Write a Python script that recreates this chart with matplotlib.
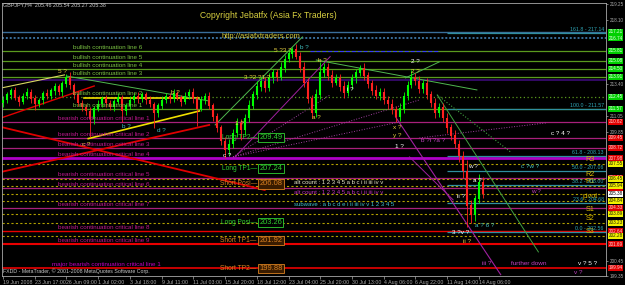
import matplotlib
matplotlib.use("Agg")
import matplotlib.pyplot as plt
import matplotlib.transforms as mtransforms

plt.rcParams['font.family'] = ['Liberation Sans', 'DejaVu Sans']

# GBPJPY H4 - one candle drawn for every second bar
first_open = 212.0
closes = [
    212.2, 212.6, 212.9, 212.4, 212.1, 212.5, 212.8, 212.3, 211.9, 212.2,
    212.7, 212.5, 212.9, 213.2, 212.8, 213.4, 213.9, 213.3,
    212.6, 212.0, 211.7, 211.4, 210.8,
    211.6, 211.9, 212.3, 212.0, 211.7, 212.1, 212.4, 211.4, 211.8, 212.2,
    212.5, 212.3, 212.6, 212.2, 211.9, 211.3, 211.8, 212.2, 212.5, 212.3,
    212.7, 212.4, 212.1, 212.5, 212.8,
    212.3, 211.6,
    212.2, 212.5, 211.8, 211.0, 210.2, 209.2, 208.6, 209.0,
    209.8, 210.5, 210.0, 210.9, 211.8, 212.6, 213.2, 213.6, 213.1, 213.8,
    214.2, 213.9, 214.6, 215.2, 215.6, 215.9, 215.4,
    214.6, 213.5, 212.3, 211.3, 212.6,
    214.2, 214.6, 214.0, 213.5, 213.8, 213.2, 212.7, 213.3, 213.8, 214.2,
    214.5, 214.0, 213.4, 212.9, 212.5, 212.8, 212.2, 211.9, 211.5, 211.0,
    211.6, 212.5, 213.3, 213.9, 213.6, 213.0, 213.4,
    212.6, 212.0, 211.3, 211.7, 210.9, 210.2, 209.6, 209.0, 208.1, 207.0,
    204.5, 203.8, 205.0, 206.2, 205.38,
]
up_wick = [
    0.3, 0.2, 0.2, 0.3, 0.2, 0.2, 0.3, 0.2, 0.3, 0.2, 0.2, 0.3, 0.2, 0.3, 0.2, 0.2, 0.2, 0.4,
    0.2, 0.3, 0.2, 0.2, 0.3,
    0.2, 0.3, 0.2, 0.3, 0.2, 0.2, 0.3, 0.2, 0.2, 0.3, 0.2, 0.3, 0.2, 0.2, 0.3, 0.2, 0.2, 0.3,
    0.2, 0.2, 0.3, 0.2, 0.2, 0.3, 0.2,
    0.3, 0.2,
    0.3, 0.2, 0.3, 0.2, 0.3, 0.2, 0.3, 0.4,
    0.3, 0.4, 0.3, 0.3, 0.4, 0.3, 0.4, 0.3, 0.3, 0.4, 0.3, 0.3, 0.4, 0.3, 0.3, 0.2, 0.4,
    0.3, 0.4, 0.3, 0.3, 0.4,
    0.8, 0.3, 0.3, 0.4, 0.3, 0.3, 0.4, 0.3, 0.3, 0.3, 0.3, 0.4, 0.3, 0.3, 0.4, 0.3, 0.3, 0.3, 0.4, 0.3,
    0.4, 0.3, 0.3, 0.5, 0.3, 0.4, 0.3,
    0.4, 0.3, 0.4, 0.3, 0.3, 0.4, 0.3, 0.4, 0.3, 0.4,
    0.8, 0.4, 0.3, 0.6, 0.4,
]
dn_wick = [
    0.3, 0.2, 0.3, 0.2, 0.3, 0.2, 0.2, 0.3, 0.4, 0.2, 0.3, 0.2, 0.2, 0.3, 0.2, 0.3, 0.2, 0.3,
    0.3, 0.2, 0.3, 0.3, 1.3,
    0.3, 0.2, 0.2, 0.3, 0.2, 0.3, 0.2, 0.8, 0.3, 0.2, 0.2, 0.3, 0.2, 0.3, 0.2, 1.1, 0.3, 0.2,
    0.2, 0.3, 0.2, 0.2, 0.3, 0.2, 0.2,
    0.3, 1.3,
    0.2, 0.3, 0.2, 0.3, 0.3, 0.3, 0.6, 0.4,
    0.3, 0.3, 0.7, 0.3, 0.3, 0.2, 0.3, 0.3, 0.3, 0.2, 0.3, 0.3, 0.2, 0.3, 0.2, 0.3, 0.2,
    0.3, 0.3, 0.3, 0.4, 0.3,
    0.3, 0.3, 0.3, 0.3, 0.2, 0.3, 0.3, 0.2, 0.3, 0.3, 0.2, 0.3, 0.3, 0.3, 0.2, 0.3, 0.3, 0.3, 0.3, 0.4,
    0.3, 0.3, 0.3, 0.2, 0.3, 0.3, 0.3,
    0.3, 0.3, 0.4, 0.3, 0.3, 0.4, 0.3, 0.3, 0.4, 0.5,
    1.6, 0.6, 0.4, 0.3, 0.3,
]

time_labels = ["19 Jun 2008", "23 Jun 17:00", "26 Jun 09:00", "1 Jul 02:00", "3 Jul 18:00",
               "9 Jul 11:00", "11 Jul 03:00", "15 Jul 20:00", "18 Jul 12:00", "23 Jul 04:00",
               "25 Jul 20:00", "30 Jul 13:00", "4 Aug 06:00", "6 Aug 22:00", "11 Aug 14:00",
               "14 Aug 06:00"]
bars_per_label = 16
price_ticks = [219.25, 218.10, 213.40, 211.05, 209.85, 200.45, 199.35]

# horizontal levels
top_levels = [217.21, 216.74]
bull_levels = [215.81, 215.08, 214.50, 213.91, 212.45, 211.57]
bull_names = ["bullish continuation line 6", "bullish continuation line 5",
              "bullish continuation line 4", "bullish continuation line 3",
              "bullish continuation line 2", "bullish continuation line 1"]
purple_level = 213.69
bear_levels = [210.62, 209.45, 208.72, 207.98, 206.52, 205.79, 204.33, 202.64, 201.69]
bear_names = ["bearish continuation critical line %d" % i for i in range(1, 10)]
major_level = 199.94
major_name = "major bearish continuation critical line 1"
pivot_names = ["R3", "R2", "R1", "pivot", "S1", "S2", "S3"]
pivot_levels = [207.55, 206.45, 205.94, 204.84, 203.89, 203.23, 202.28]
bid = 205.38
fib_names = ["161.8", "100.0", "61.8", "50.0", "38.2", "23.6", "0.0"]
fib_levels = [217.14, 211.57, 208.13, 207.06, 206.00, 204.68, 202.56]

pos_names = ["Long TP2", "Long TP1", "Short Posi", "Long Posi", "Short TP1", "Short TP2"]
pos_levels = [209.49, 207.24, 206.08, 203.26, 201.92, 199.88]
pos_long = [True, True, False, True, False, False]

# trend lines: (bar0, price0, bar1, price1, colour, style, width)
trend_lines = [
    (-1, 210.25, 132, 205.64, '#e00000', '-', 1.3),
    (-1, 206.96, 104, 210.40, '#e00000', '-', 1.3),
    (-1, 210.91, 46, 213.25, '#e00000', '-', 1.0),
    (43, 209.40, 99, 211.42, '#f0e000', '-', 1.2),
    (41, 212.37, 99, 212.37, '#f0e000', '-', 1.2),
    (-1, 213.10, 31, 214.06, '#d8d860', '-', 0.8),
    (32, 213.98, 104, 212.15, '#50b850', '-', 0.7),
    (107, 210.40, 151, 216.84, '#50b850', '-', 0.7),
    (158, 215.15, 239, 212.96, '#50b850', '-', 0.7),
    (203, 213.84, 220, 215.01, '#50b850', '-', 0.7),
    (219, 212.59, 270, 201.11, '#40a040', '-', 0.7),
    (219, 212.59, 256, 208.42, '#40a040', ':', 0.8),
    (116, 208.06, 200, 210.62, '#a040a0', ':', 0.7),
    (116, 208.06, 210, 212.23, '#a040a0', ':', 0.7),
    (116, 208.06, 165, 212.60, '#a040a0', ':', 0.7),
    (117, 208.06, 165, 215.40, '#a020a0', '-', 0.7),
    (198, 210.98, 251, 199.45, '#a020a0', '-', 0.8),
    (210, 209.45, 274, 210.55, '#a040a0', ':', 0.7),
    (205, 208.06, 227, 204.92, '#a020a0', '-', 0.7),
    (155, 215.80, 220, 215.80, '#3838ff', '--', 0.8),
]

# wave count labels: (bar, price, text, colour)
wave_labels = [
    (30, 214.28, "5 ?", '#e8d040'), (87, 212.74, "b ?", '#e8d040'),
    (42, 208.98, "c ?", '#e8d040'), (62, 210.25, "b ?", '#40c0c0'),
    (80, 209.96, "d ?", '#40c0c0'), (113, 208.20, "c ?", '#ffffff'),
    (119, 210.47, "1 ?", '#e8d040'), (128, 213.84, "3 ?2 ?1 ?", '#e8d040'),
    (141, 215.88, "5 ?3 ?", '#e8d040'), (152, 216.03, "b ?", '#40c0c0'),
    (161, 215.15, "b ?", '#e8d040'), (158, 210.98, "a ?", '#e8d040'),
    (175, 212.96, "i ?", '#ffffff'), (208, 215.01, "2 ?", '#ffffff'),
    (208, 214.28, "2 ?", '#e8d040'), (199, 210.18, "x ?", '#e8d040'),
    (199, 209.60, "y ?", '#e8d040'), (200, 208.79, "1 ?", '#ffffff'),
    (217, 209.23, "b ?i ?a ?", '#c040c0'), (281, 209.81, "c ? 4 ?", '#ffffff'),
    (237, 207.33, "w ?", '#ffffff'), (266, 207.33, "c ?w ?", '#40c0c0'),
    (239, 206.30, "a ?", '#ffffff'), (231, 205.20, "ii ?", '#ffffff'),
    (269, 205.50, "w ?", '#c040c0'), (243, 203.01, "a ? 6 ?", '#40c0c0'),
    (231, 202.50, "3 ?v ?", '#ffffff'), (234, 201.84, "ii ?", '#e8d040'),
    (244, 200.30, "iii ?", '#c040c0'), (265, 200.30, "further down", '#c040c0'),
    (295, 200.30, "v ? 5 ?", '#ffffff'), (290, 199.64, "v ?", '#c040c0'),
]

fig = plt.figure(figsize=(6.25, 2.85), dpi=100, facecolor='black')
ax = fig.add_axes([2 / 625, 9 / 285, 604 / 625, 273 / 285], facecolor='black')
ax.set_xlim(-0.5, 304.1)
ax.set_ylim(199.35, 219.32)

gray = '#a8a8a8'
for s in ax.spines.values():
    s.set_color(gray)
    s.set_linewidth(0.6)

# horizontal levels
ax.axhline(top_levels[0], color='#3a6e9a', lw=1.0, zorder=1)
ax.axhline(top_levels[1], color='#3a6e9a', lw=1.4, ls=(0, (1, 1)), zorder=1)
for i, p in enumerate(bull_levels):
    ls = (0, (1, 2)) if i == 4 else '-'
    ax.axhline(p, color='#5a9a1e', lw=0.9, ls=ls, zorder=1)
ax.axhline(purple_level, color='#3c0a78', lw=1.2, zorder=1)
for i, p in enumerate(bear_levels):
    if i == 3:
        ax.axhline(p, color='#b000c8', lw=2.0, zorder=1)
    elif i >= 7:
        ax.axhline(p, color='#e80000', lw=1.0 if i == 7 else 1.5, zorder=1)
    else:
        ax.axhline(p, color='#a8207c', lw=0.9, zorder=1)
ax.axhline(major_level, color='#e80000', lw=1.2, zorder=1)
for p in pivot_levels:
    ax.axhline(p, color='#b0a000', lw=0.8, ls=(0, (2, 2)), zorder=1)
ax.axhline(bid, color='#b0a000', lw=0.8, ls=(0, (2, 2)), zorder=1)
ax.hlines(fib_levels, 224, 304.1, color='#2f8f9f', lw=0.9, zorder=1)

for b0, p0, b1, p1, col, ls, lw in trend_lines:
    ax.plot([b0, b1], [p0, p1], color=col, ls=ls, lw=lw, zorder=2)

# candles
opens = [first_open] + closes[:-1]
xs = [2 * k for k in range(len(closes))]
for x, o, c, uw, dw in zip(xs, opens, closes, up_wick, dn_wick):
    col = '#00ff00' if c >= o else '#ff2020'
    lo, hi = min(o, c), max(o, c)
    ax.vlines(x, lo - dw, hi + uw, color=col, lw=0.6, zorder=3)
    ax.vlines(x, lo, hi + 0.04, color=col, lw=1.5, zorder=3)

# level labels
for p, name in zip(bull_levels, bull_names):
    ax.text(35.3, p + 0.08, name, color='#7ac142', fontsize=4.5, va='bottom', zorder=4)
for p, name in zip(bear_levels, bear_names):
    ax.text(27.7, p + 0.08, name, color='#c01890', fontsize=4.5, va='bottom', zorder=4)
ax.text(24.7, major_level + 0.1, major_name, color='#c000c0', fontsize=4.5, va='bottom', zorder=4)
for p, name in zip(pivot_levels, pivot_names):
    ax.text(296, p + 0.1, name, color='#d8b800', fontsize=5.2, va='bottom', ha='center', zorder=4)
for p, name in zip(fib_levels, fib_names):
    ax.text(303, p + 0.05, "%s - %.2f" % (name, p), color='#2fa8b8', fontsize=3.8,
            va='bottom', ha='right', zorder=4)

for p, name, is_long in zip(pos_levels, pos_names, pos_long):
    col = '#30d030' if is_long else '#d88020'
    ax.text(128, p, name + "\u2014", color=col, fontsize=4.8, va='center', ha='right', zorder=5)
    ax.text(129.3, p, "%.2f" % p, color=col, fontsize=5.4, va='center', ha='left', zorder=5,
            bbox=dict(boxstyle='square,pad=0.15', fc='black' if is_long else '#3a1c00',
                      ec=col, lw=0.6))

ax.text(147, 206.16, "alt count : 1 2 3 4 5 a b c i ii iii iv v", color='#e8e8c8',
        fontsize=4.3, va='center', zorder=5)
ax.text(147, 205.45, "alt count : 1 2 3 4 5 a b c i ii iii iv v", color='#c030c0',
        fontsize=4.3, va='center', zorder=5)
ax.text(147, 204.55, "subwave : a b c d e i ii iii iv v 1 2 3 4 5", color='#40c0d0',
        fontsize=4.3, va='center', zorder=5)

for b, p, t, col in wave_labels:
    ax.text(b, p, t, color=col, fontsize=4.6, ha='center', va='center', zorder=5)

# right-hand price boxes
yax = mtransforms.blended_transform_factory(ax.transAxes, ax.transData)
boxes = ([(p, '#00d000', '#e8ffe8') for p in top_levels + bull_levels]
         + [(p, '#e00000', '#ffd0d0') for p in bear_levels + [major_level]]
         + [(p, '#f0f000', '#202000') for p in pivot_levels]
         + [(bid, '#ffffff', '#000000')])
for p, fc, tc in boxes:
    ax.text(1.004, p, "%.2f" % p, transform=yax, fontsize=3.3, color=tc, va='center',
            ha='left', clip_on=False, zorder=6,
            bbox=dict(boxstyle='square,pad=0.1', fc=fc, ec='none'))

# axes
ax.yaxis.tick_right()
ax.set_yticks(price_ticks)
ax.set_yticklabels(["%.2f" % p for p in price_ticks])
ax.tick_params(axis='y', colors=gray, labelsize=3.3, length=1.5, width=0.5, pad=1.0)
ax.set_xticks([i * bars_per_label for i in range(len(time_labels))])
ax.set_xticklabels(time_labels)
for lab in ax.get_xticklabels():
    lab.set_horizontalalignment('left')
ax.tick_params(axis='x', colors=gray, labelsize=3.8, length=2, width=0.5, pad=1.0)

fig.text(3 / 625, 1 - 5 / 285, "GBPJPY,H4  205.46 205.54 205.27 205.38", color='#c8c8c8',
         fontsize=3.9, va='center')
fig.text(200 / 625, 1 - 16 / 285, "Copyright Jebatfx (Asia Fx Traders)", color='#d8d040',
         fontsize=6.2, va='center')
fig.text(222 / 625, 1 - 37 / 285, "http://asiafxtraders.com", color='#d8d040',
         fontsize=5.4, va='center')
fig.text(3 / 625, 1 - 271 / 285, "FXDD - MetaTrader, \u00a9 2001-2008 MetaQuotes Software Corp.",
         color='#c8c8c8', fontsize=3.8, va='center')

fig.savefig("out.png", dpi=100, facecolor='black')
